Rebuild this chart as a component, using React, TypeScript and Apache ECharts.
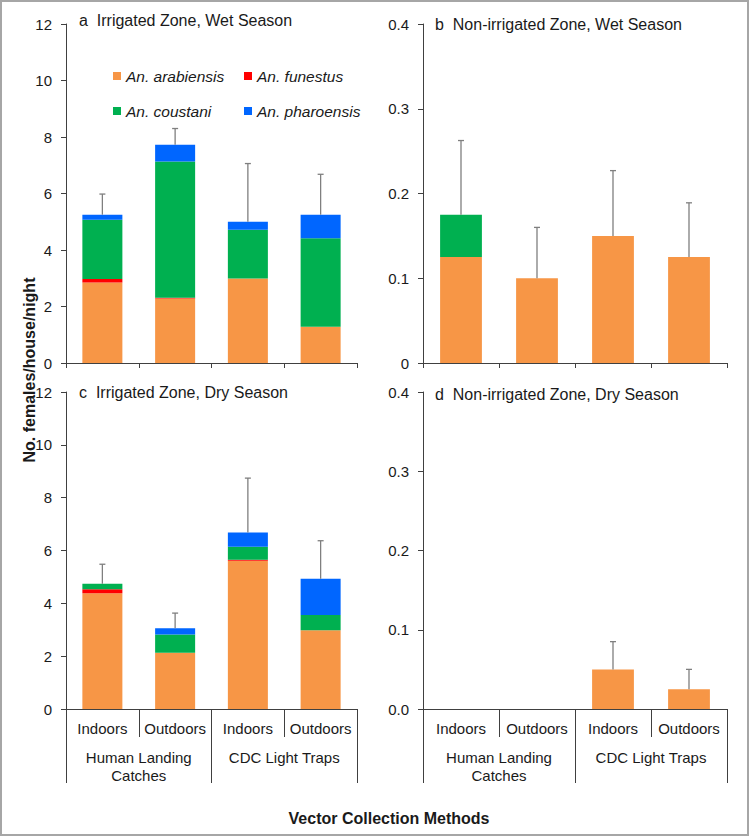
import React, { useEffect, useRef } from 'react';
import * as echarts from 'echarts';

// ---------- data ----------
const methods = ['Indoors', 'Outdoors', 'Indoors', 'Outdoors'];
const groups = ['Human Landing\nCatches', 'CDC Light Traps'];
const species = ['An. arabiensis', 'An. funestus', 'An. coustani', 'An. pharoensis'];
const speciesColors = ['#F79646', '#FF0000', '#00B050', '#0066FF'];

// panel a: Irrigated Zone, Wet Season
const aArabiensis = [2.85, 2.28, 2.99, 1.28];
const aFunestus = [0.12, 0.03, 0, 0];
const aCoustani = [2.1, 4.82, 1.73, 3.14];
const aPharoensis = [0.18, 0.6, 0.28, 0.83];
const aErrorTop = [5.98, 8.3, 7.06, 6.68];

// panel b: Non-irrigated Zone, Wet Season
const bArabiensis = [0.125, 0.1, 0.15, 0.125];
const bFunestus = [0, 0, 0, 0];
const bCoustani = [0.05, 0, 0, 0];
const bPharoensis = [0, 0, 0, 0];
const bErrorTop = [0.2625, 0.16, 0.227, 0.189];

// panel c: Irrigated Zone, Dry Season
const cArabiensis = [4.38, 2.13, 5.61, 2.98];
const cFunestus = [0.15, 0, 0.04, 0];
const cCoustani = [0.21, 0.69, 0.49, 0.58];
const cPharoensis = [0, 0.24, 0.54, 1.37];
const cErrorTop = [5.48, 3.63, 8.74, 6.37];

// panel d: Non-irrigated Zone, Dry Season
const dArabiensis = [0, 0, 0.05, 0.025];
const dFunestus = [0, 0, 0, 0];
const dCoustani = [0, 0, 0, 0];
const dPharoensis = [0, 0, 0, 0];
const dErrorTop: (number | null)[] = [null, null, 0.085, 0.05];

const panelTitles = [
  'a\u00a0 Irrigated Zone, Wet Season',
  'b\u00a0 Non-irrigated Zone, Wet Season',
  'c\u00a0 Irrigated Zone, Dry Season',
  'd\u00a0 Non-irrigated Zone, Dry Season',
];
const yMaxes = [12, 0.4, 12, 0.4];
const yIntervals = [2, 0.1, 2, 0.1];
const yAxisTitle = 'No. females/house/night';
const xAxisTitle = 'Vector Collection Methods';

const panelSeries = [
  [aArabiensis, aFunestus, aCoustani, aPharoensis],
  [bArabiensis, bFunestus, bCoustani, bPharoensis],
  [cArabiensis, cFunestus, cCoustani, cPharoensis],
  [dArabiensis, dFunestus, dCoustani, dPharoensis],
];
const panelErrors: (number | null)[][] = [aErrorTop, bErrorTop, cErrorTop, dErrorTop];

// ---------- layout ----------
const FONT = '"Liberation Sans", Arial, Helvetica, sans-serif';
const grids = [
  { left: 66, top: 24, width: 291, height: 339 },
  { left: 423, top: 24, width: 304, height: 339 },
  { left: 66, top: 392, width: 291, height: 317 },
  { left: 423, top: 392, width: 304, height: 317 },
];
const titlePos = [
  [79, 20],
  [435, 24],
  [79, 392],
  [435, 394],
];
const AXIS_COLOR = '#404040';
const TEXT_COLOR = '#1a1a1a';
const ERR_COLOR = '#7f7f7f';

const yFormatters = [
  (v: number) => String(Math.round(v)),
  (v: number) => (v === 0 ? '0' : v.toFixed(1)),
  (v: number) => String(Math.round(v)),
  (v: number) => v.toFixed(1),
];

export default function App() {
  const ref = useRef<HTMLDivElement>(null);

  useEffect(() => {
    document.body.style.margin = '0';
    if (!ref.current) return;
    const chart = echarts.init(ref.current, undefined, { renderer: 'svg' });

    const xAxes: any[] = [];
    const yAxes: any[] = [];
    const series: any[] = [];

    grids.forEach((_, p) => {
      const bottomPanel = p >= 2;
      xAxes.push({
        type: 'category',
        gridIndex: p,
        position: 'bottom',
        data: methods,
        axisLine: { show: true, lineStyle: { color: AXIS_COLOR, width: 1 } },
        axisTick: { show: true, interval: 0, length: bottomPanel ? 28 : 5, lineStyle: { color: AXIS_COLOR, width: 1 } },
        axisLabel: bottomPanel
          ? { show: true, interval: 0, hideOverlap: false, fontSize: 15, lineHeight: 18, margin: 10, color: TEXT_COLOR, fontFamily: FONT }
          : { show: false, interval: 0 },
        splitLine: { show: false },
      });
      yAxes.push({
        type: 'value',
        gridIndex: p,
        min: 0,
        max: yMaxes[p],
        interval: yIntervals[p],
        axisLine: { show: true, lineStyle: { color: AXIS_COLOR, width: 1 } },
        axisTick: { show: true, length: 5, inside: false, lineStyle: { color: AXIS_COLOR, width: 1 } },
        axisLabel: { fontSize: 15, margin: 14, color: TEXT_COLOR, fontFamily: FONT, formatter: yFormatters[p] },
        splitLine: { show: false },
      });
    });
    // second-level (group) axes for bottom panels
    [2, 3].forEach((p) => {
      xAxes.push({
        type: 'category',
        gridIndex: p,
        position: 'bottom',
        offset: 0,
        data: groups,
        axisLine: { show: false },
        axisTick: { show: true, interval: 0, length: 74, lineStyle: { color: AXIS_COLOR, width: 1 } },
        axisLabel: { show: true, fontSize: 15, lineHeight: 18, margin: 39, color: TEXT_COLOR, fontFamily: FONT, interval: 0 },
        splitLine: { show: false },
      });
    });

    panelSeries.forEach((arrs, p) => {
      arrs.forEach((vals, s) => {
        series.push({
          type: 'bar',
          name: species[s],
          xAxisIndex: p,
          yAxisIndex: p,
          stack: 'panel' + p,
          barWidth: '55%',
          itemStyle: { color: speciesColors[s] },
          data: vals,
        });
      });
      const totals = methods.map((_, i) => arrs.reduce((acc, a) => acc + a[i], 0));
      const errData = methods
        .map((_, i) => [i, totals[i], panelErrors[p][i]])
        .filter((d) => d[2] != null);
      series.push({
        type: 'custom',
        name: 'err' + p,
        xAxisIndex: p,
        yAxisIndex: p,
        z: 5,
        encode: { x: 0, y: 1 },
        data: errData,
        renderItem: (params: any, api: any) => {
          const x = api.value(0);
          const top = api.value(1);
          const err = api.value(2);
          const p0 = api.coord([x, top]);
          const p1 = api.coord([x, err]);
          return {
            type: 'group',
            children: [
              {
                type: 'line',
                shape: { x1: p0[0], y1: p0[1], x2: p1[0], y2: p1[1] },
                style: { stroke: ERR_COLOR, lineWidth: 1.3 },
              },
              {
                type: 'line',
                shape: { x1: p1[0] - 3, y1: p1[1], x2: p1[0] + 3, y2: p1[1] },
                style: { stroke: ERR_COLOR, lineWidth: 1.3 },
              },
            ],
          };
        },
      });
    });

    const legendCommon = {
      orient: 'vertical',
      top: 63,
      itemWidth: 8,
      itemHeight: 8,
      itemGap: 19,
      icon: 'rect',
      selectedMode: false,
      textStyle: { fontSize: 15.5, lineHeight: 16, fontStyle: 'italic', color: TEXT_COLOR, fontFamily: FONT },
    };

    const graphics: any[] = [
      {
        type: 'rect',
        shape: { x: 1, y: 1, width: 747, height: 834 },
        style: { fill: 'none', stroke: '#a6a6a6', lineWidth: 2 },
        silent: true,
      },
      ...panelTitles.map((t, i) => ({
        type: 'text',
        x: titlePos[i][0],
        y: titlePos[i][1],
        style: {
          text: t,
          fontSize: 16,
          fontFamily: FONT,
          fill: TEXT_COLOR,
          textAlign: 'left',
          textVerticalAlign: 'middle',
        },
      })),
      {
        type: 'text',
        x: 29,
        y: 370,
        rotation: Math.PI / 2,
        style: {
          text: yAxisTitle,
          fontSize: 16,
          fontWeight: 'bold',
          fontFamily: FONT,
          fill: TEXT_COLOR,
          textAlign: 'center',
          textVerticalAlign: 'middle',
        },
      },
      {
        type: 'text',
        x: 389,
        y: 818,
        style: {
          text: xAxisTitle,
          fontSize: 16,
          fontWeight: 'bold',
          fontFamily: FONT,
          fill: TEXT_COLOR,
          textAlign: 'center',
          textVerticalAlign: 'middle',
        },
      },
    ];

    chart.setOption({
      animation: false,
      backgroundColor: '#ffffff',
      textStyle: { fontFamily: FONT },
      grid: grids.map((g) => ({ ...g, containLabel: false })),
      xAxis: xAxes,
      yAxis: yAxes,
      legend: [
        { ...legendCommon, left: 108, data: [species[0], species[2]] },
        { ...legendCommon, left: 239, data: [species[1], species[3]] },
      ],
      series,
      graphic: graphics,
    });

    return () => {
      chart.dispose();
    };
  }, []);

  return <div ref={ref} style={{ width: 749, height: 836 }} />;
}
